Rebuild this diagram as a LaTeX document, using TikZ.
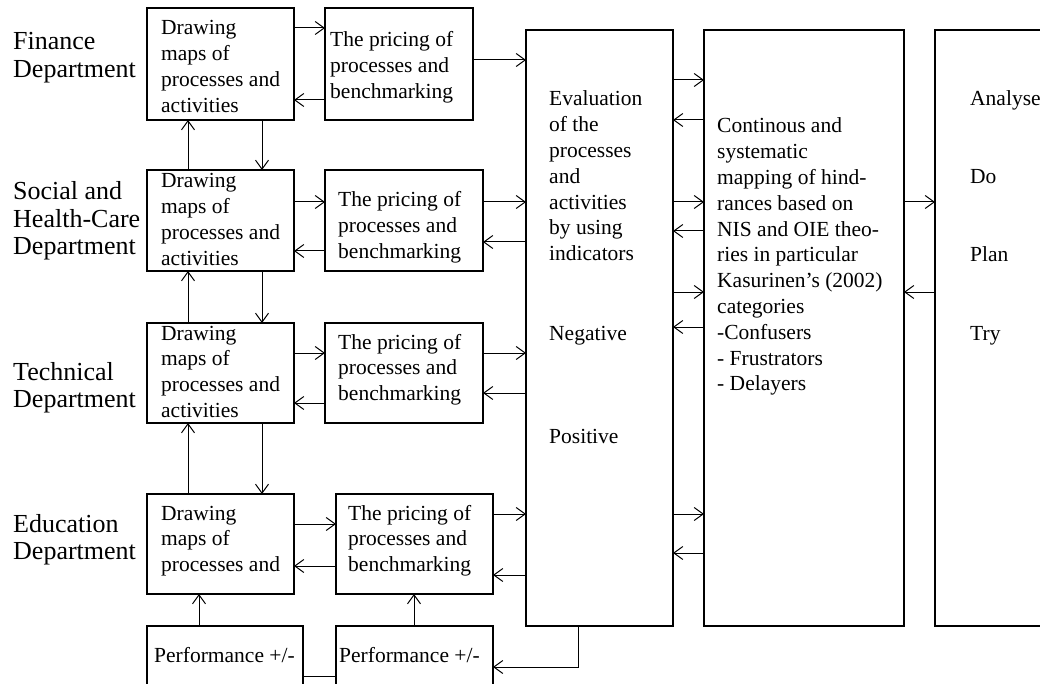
\documentclass[tikz,border=0pt]{standalone}
\usepackage{fontspec}
\setmainfont{Liberation Serif}
\usetikzlibrary{arrows.meta,calc}

% left-aligned block whose reference point is the baseline of its first line
\newcommand\lines[1]{\begin{tabular}[t]{@{}l@{}}#1\end{tabular}}

\begin{document}
\begin{tikzpicture}[x=1pt,y=-1pt,
  box/.style={draw,line width=1.1pt,inner sep=0pt,outer sep=0pt,anchor=north west},
  txt/.style={anchor=base west,inner sep=0pt,font=\fontsize{21.5}{25.8}\selectfont},
  dept/.style={anchor=base west,inner sep=0pt,font=\fontsize{26}{27.5}\selectfont},
  arr/.style={line width=1pt,-{Straight Barb[length=9pt,width=13pt,line width=1pt]}},
  link/.style={line width=1pt}]
\useasboundingbox (0,0) rectangle (1040,684);
\clip (0,0) rectangle (1040,684);

% department rows: process maps and pricing boxes
\node[box,minimum width=147pt,minimum height=112pt] (fd) at (147,8) {};
\node[box,minimum width=148pt,minimum height=112pt] (fp) at (325,8) {};
\node[box,minimum width=147pt,minimum height=101pt] (sd) at (147,170) {};
\node[box,minimum width=158pt,minimum height=101pt] (sp) at (325,170) {};
\node[box,minimum width=147pt,minimum height=100pt] (td) at (147,323) {};
\node[box,minimum width=158pt,minimum height=100pt] (tp) at (325,323) {};
\node[box,minimum width=147pt,minimum height=100pt] (ed) at (147,494) {};
\node[box,minimum width=157pt,minimum height=100pt] (ep) at (336,494) {};
% performance boxes
\node[box,minimum width=156pt,minimum height=100pt] (pf1) at (147,626) {};
\node[box,minimum width=157pt,minimum height=100pt] (pf2) at (336,626) {};
% evaluation, mapping and PDCA columns
\node[box,minimum width=147pt,minimum height=596pt] (ev) at (526,30) {};
\node[box,minimum width=200pt,minimum height=596pt] (co) at (704,30) {};
\node[box,minimum width=200pt,minimum height=596pt] (pd) at (935,30) {};

% department labels
\node[dept] (lf) at (13,50) {\lines{Finance\\Department}};
\node[dept] (ls) at (13,200) {\lines{Social and\\Health-Care\\Department}};
\node[dept] (lt) at (13,380) {\lines{Technical\\Department}};
\node[dept] (le) at (13,532) {\lines{Education\\Department}};

% box texts
\node[txt] (tfd) at (161,35) {\lines{Drawing\\maps of\\processes and\\activities}};
\node[txt] (tfp) at (330,47) {\lines{The pricing of\\processes and\\benchmarking}};
\node[txt] (tsd) at (161,188) {\lines{Drawing\\maps of\\processes and\\activities}};
\node[txt] (tsp) at (338,207) {\lines{The pricing of\\processes and\\benchmarking}};
\node[txt] (ttd) at (161,340) {\lines{Drawing\\maps of\\processes and\\activities}};
\node[txt] (ttp) at (338,349) {\lines{The pricing of\\processes and\\benchmarking}};
\node[txt] (ted) at (161,520) {\lines{Drawing\\maps of\\processes and}};
\node[txt] (tep) at (348,520) {\lines{The pricing of\\processes and\\benchmarking}};
\node[txt] (tpf1) at (154,662) {Performance +/-};
\node[txt] (tpf2) at (339,662) {Performance +/-};

\node[txt] (tev) at (549,106) {\lines{Evaluation\\of the\\processes\\and\\activities\\by using\\indicators}};
\node[txt] (tneg) at (549,340) {Negative};
\node[txt] (tpos) at (549,443) {Positive};

\node[txt] (tco) at (717,133) {\lines{Continous and\\systematic\\mapping of hind-\\rances based on\\NIS and OIE theo-\\ries in particular\\Kasurinen’s (2002)\\categories\\-Confusers\\- Frustrators\\- Delayers}};

\node[txt] (ta) at (970,106) {Analyse};
\node[txt] (tdo) at (970,184) {Do};
\node[txt] (tpl) at (970,262) {Plan};
\node[txt] (ttr) at (970,340) {Try};

% horizontal links within each department row
\draw[arr] ($(fd.north east)+(0,20)$) -- ($(fp.north west)+(0,20)$);
\draw[arr] ($(fp.north west)+(0,92)$) -- ($(fd.north east)+(0,92)$);
\draw[arr] ($(sd.north east)+(0,32)$) -- ($(sp.north west)+(0,32)$);
\draw[arr] ($(sp.north west)+(0,81)$) -- ($(sd.north east)+(0,81)$);
\draw[arr] ($(td.north east)+(0,30)$) -- ($(tp.north west)+(0,30)$);
\draw[arr] ($(tp.north west)+(0,80)$) -- ($(td.north east)+(0,80)$);
\draw[arr] ($(ed.north east)+(0,30)$) -- ($(ep.north west)+(0,30)$);
\draw[arr] ($(ep.north west)+(0,72)$) -- ($(ed.north east)+(0,72)$);

% pricing boxes to and from the evaluation column
\draw[arr] ($(fp.north east)+(0,52)$) -- ($(ev.north west)+(0,30)$);
\draw[arr] ($(sp.north east)+(0,32)$) -- ($(ev.north west)+(0,172)$);
\draw[arr] ($(ev.north west)+(0,212)$) -- ($(sp.north east)+(0,72)$);
\draw[arr] ($(tp.north east)+(0,30)$) -- ($(ev.north west)+(0,323)$);
\draw[arr] ($(ev.north west)+(0,363)$) -- ($(tp.north east)+(0,70)$);
\draw[arr] ($(ep.north east)+(0,20)$) -- ($(ev.north west)+(0,484)$);
\draw[arr] ($(ev.north west)+(0,545)$) -- ($(ep.north east)+(0,81)$);

% vertical links between the process maps
\draw[arr] ($(sd.north west)+(41,0)$) -- ($(fd.south west)+(41,0)$);
\draw[arr] ($(fd.south west)+(115,0)$) -- ($(sd.north west)+(115,0)$);
\draw[arr] ($(td.north west)+(41,0)$) -- ($(sd.south west)+(41,0)$);
\draw[arr] ($(sd.south west)+(115,0)$) -- ($(td.north west)+(115,0)$);
\draw[arr] ($(ed.north west)+(41,0)$) -- ($(td.south west)+(41,0)$);
\draw[arr] ($(td.south west)+(115,0)$) -- ($(ed.north west)+(115,0)$);

% performance feedback
\draw[arr] ($(pf1.north west)+(52,0)$) -- ($(ed.south west)+(52,0)$);
\draw[arr] ($(pf2.north west)+(78,0)$) -- ($(ep.south west)+(78,0)$);
\draw[arr] ($(ev.south west)+(52,0)$) |- ($(pf2.north east)+(0,41)$);
\draw[link] ($(pf1.north east)+(0,50)$) -- ($(pf2.north west)+(0,50)$);

% evaluation <-> mapping
\draw[arr] ($(ev.north east)+(0,50)$) -- ($(co.north west)+(0,50)$);
\draw[arr] ($(co.north west)+(0,90)$) -- ($(ev.north east)+(0,90)$);
\draw[arr] ($(ev.north east)+(0,172)$) -- ($(co.north west)+(0,172)$);
\draw[arr] ($(co.north west)+(0,201)$) -- ($(ev.north east)+(0,201)$);
\draw[arr] ($(ev.north east)+(0,262)$) -- ($(co.north west)+(0,262)$);
\draw[arr] ($(co.north west)+(0,297)$) -- ($(ev.north east)+(0,297)$);
\draw[arr] ($(ev.north east)+(0,484)$) -- ($(co.north west)+(0,484)$);
\draw[arr] ($(co.north west)+(0,523)$) -- ($(ev.north east)+(0,523)$);

% mapping <-> PDCA
\draw[arr] ($(co.north east)+(0,172)$) -- ($(pd.north west)+(0,172)$);
\draw[arr] ($(pd.north west)+(0,262)$) -- ($(co.north east)+(0,262)$);
\end{tikzpicture}
\end{document}
